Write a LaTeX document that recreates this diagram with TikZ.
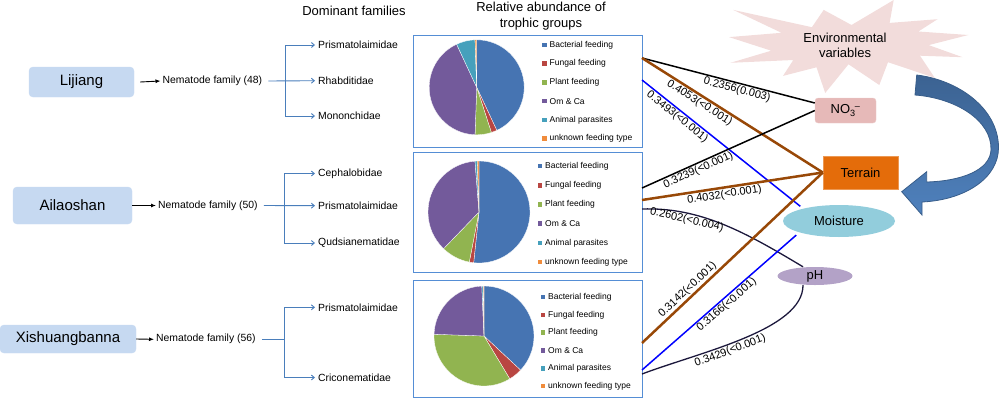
\documentclass[tikz,border=0pt]{standalone}
\usepackage{fontspec}
\setmainfont{Liberation Sans}
\usetikzlibrary{arrows.meta,shapes.geometric}

\definecolor{bact}{RGB}{70,116,178}
\definecolor{fung}{RGB}{185,70,66}
\definecolor{plant}{RGB}{145,180,80}
\definecolor{omca}{RGB}{115,90,155}
\definecolor{anim}{RGB}{70,160,188}
\definecolor{unk}{RGB}{240,140,60}
\definecolor{sitefill}{RGB}{198,217,241}
\definecolor{branchblue}{RGB}{74,126,187}
\definecolor{boxblue}{RGB}{85,142,213}
\definecolor{brownln}{RGB}{152,72,7}
\definecolor{darkln}{RGB}{28,24,60}
\definecolor{starpink}{RGB}{242,220,219}
\definecolor{nofill}{RGB}{230,185,184}
\definecolor{terrfill}{RGB}{228,108,10}
\definecolor{moistfill}{RGB}{146,205,220}
\definecolor{phfill}{RGB}{179,162,199}
\definecolor{arrowblue}{RGB}{79,129,189}
\definecolor{arrowdark}{RGB}{56,93,138}

% pie: centre, radius, list of start/end/colour
\newcommand{\trophicpie}[3]{%
  \foreach \a/\b/\c in {#3}
    \fill[\c,draw=white,line width=0.3pt] (#1) -- ++(\a:#2) arc[start angle=\a,end angle=\b,radius=#2] -- cycle;}
% legend: prefix, square x, first row y, row step
\newcommand{\feedkey}[4]{%
  \foreach \lab/\c [count=\i from 0] in {Bacterial feeding/bact,Fungal feeding/fung,Plant feeding/plant,Om \& Ca/omca,Animal parasites/anim,unknown feeding type/unk}{
    \fill[\c] ({#2-2.3},{#3+\i*#4-2.3}) rectangle ++(4.6,4.6);
    \node[keytext] (#1\i) at ({#2+5},{#3+\i*#4}) {\lab};}}

\begin{document}
\begin{tikzpicture}[x=1pt,y=-1pt,
    title/.style={font=\fontsize{13}{16}\selectfont,align=center,inner sep=0},
    site/.style={fill=sitefill,draw=sitefill,rounded corners=4pt,font=\fontsize{15}{17}\selectfont,inner sep=0},
    famtext/.style={font=\fontsize{10.4}{12}\selectfont,inner sep=3pt,anchor=west},
    keytext/.style={font=\fontsize{8.5}{10}\selectfont,inner sep=0,anchor=west},
    piebox/.style={draw=boxblue,line width=0.9pt,fill=white,inner sep=0,outer sep=0},
    cityarrow/.style={-{Latex[length=5pt,width=4pt]},line width=0.9pt},
    branch/.style={draw=branchblue,line width=0.9pt},
    branchto/.style={branch,-{Straight Barb[length=3pt,width=5pt]}},
    lbl/.style={font=\fontsize{11}{13}\selectfont,inner sep=1pt},
    blackline/.style={line width=1.5pt},
    brownline/.style={draw=brownln,line width=2.5pt},
    blueline/.style={draw=blue,line width=1.5pt},
    darkline/.style={draw=darkln,line width=1.3pt},
    envbox/.style={font=\fontsize{13}{15}\selectfont,inner sep=0}]
\useasboundingbox (0,0) rectangle (1000,402);

% environmental variables
\fill[starpink] (851.5,25) -- (893.7,0) -- (889.6,22.9) -- (937.5,19.2) -- (918.4,31.5)
  -- (968.3,35) -- (928.7,45.1) -- (962.5,57.2) -- (920,55.7) -- (934.8,77.9)
  -- (888,62.2) -- (879.3,85) -- (848.5,64.3) -- (825.2,93) -- (816.5,67.3)
  -- (783,75.9) -- (793.3,60) -- (730.5,62.8) -- (771.2,50.7) -- (729,37.1)
  -- (781.5,32.8) -- (733.2,9.9) -- (811.9,27.2) -- (823.7,9.9) -- cycle;
\node[envbox,align=center] (env) at (845,45) {Environmental\\variables};
\draw[arrowdark,line width=0.8pt,top color=arrowdark!85!arrowblue,bottom color=arrowblue]
  (916.7,75) .. controls (958,80) and (998,108) .. (998.5,147)
  .. controls (999,178) and (965,200) .. (922,202)
  -- (922,215) -- (901.7,191.7) -- (926.7,171.7) -- (926.7,182)
  .. controls (962,181) and (990,170) .. (991,150)
  .. controls (992,120) and (955,98) .. (915,95) -- cycle;

\node[envbox,fill=nofill,draw=nofill!70!white,rounded corners=3pt,minimum width=61,minimum height=25] (no3) at (845.5,110.5) {NO\textsubscript{3}\kern-1pt\textsuperscript{--}};
\node[envbox,fill=terrfill,draw=terrfill!70!white,minimum width=75,minimum height=33] (terr) at (860.5,172.5) {Terrain};
\node[envbox,ellipse,fill=moistfill,minimum width=112,minimum height=32] (moist) at (839,221) {Moisture};
\node[envbox,ellipse,fill=phfill,minimum width=75,minimum height=18] (ph) at (815,276) {pH};

% titles
\node[title] (domtitle) at (354,11) {Dominant families};
\node[title] (reltitle) at (541,16) {Relative abundance of\\trophic groups};

% sites
\node[site,minimum width=105,minimum height=30] (lij) at (81.5,82) {Lijiang};
\node[site,minimum width=119,minimum height=37] (ail) at (72.5,205.5) {Ailaoshan};
\node[site,minimum width=136,minimum height=28] (xis) at (68,339) {Xishuangbanna};

\node[famtext,inner sep=2pt] (nf1) at (160.5,81) {Nematode family (48)};
\node[famtext,inner sep=2pt] (nf2) at (156,205.5) {Nematode family (50)};
\node[famtext,inner sep=2pt] (nf3) at (154,339.3) {Nematode family (56)};
\draw[cityarrow] ([xshift=6pt]lij.east) -- (nf1.west);
\draw[cityarrow] (ail.east) -- (nf2.west);
\draw[cityarrow] (xis.east) -- (nf3.west);

% dominant families
\node[famtext] (l1) at (315,45) {Prismatolaimidae};
\node[famtext] (l2) at (315,80.7) {Rhabditidae};
\node[famtext] (l3) at (315,116) {Mononchidae};
\node[famtext] (a1) at (315,173.5) {Cephalobidae};
\node[famtext] (a2) at (315,205.7) {Prismatolaimidae};
\node[famtext] (a3) at (315,243) {Qudsianematidae};
\node[famtext] (x1) at (315,307.3) {Prismatolaimidae};
\node[famtext] (x2) at (315,377.5) {Criconematidae};

\coordinate (j1) at (285.7,80.7);
\coordinate (j2) at (284.3,205.7);
\coordinate (j3) at (284.3,339.3);
\draw[branchto] ([xshift=4pt]nf1.east) -- (l2.west);
\draw[branchto] (j1) |- (l1.west);
\draw[branchto] (j1) |- (l3.west);
\draw[branchto] ([xshift=4pt]nf2.east) -- (a2.west);
\draw[branchto] (j2) |- (a1.west);
\draw[branchto] (j2) |- (a3.west);
\draw[branch] ([xshift=4pt]nf3.east) -- (j3);
\draw[branchto] (j3) |- (x1.west);
\draw[branchto] (j3) |- (x2.west);

% trophic groups
\node[piebox,minimum width=229,minimum height=112] (box1) at (527.5,91) {};
\node[piebox,minimum width=229,minimum height=120] (box2) at (527.5,212) {};
\node[piebox,minimum width=229,minimum height=117] (box3) at (527.5,338.5) {};
\trophicpie{476.7,87.3}{47.5}{-90/65/bact,65/72/fung,72/92/plant,92/245/omca,245/268/anim,268/270/unk}
\trophicpie{479,212}{51}{-90/96/bact,96/101/fung,101/134/plant,134/265.5/omca,265.5/268/anim,268/270/unk}
\trophicpie{484,336}{50}{-90/43/bact,43/59/fung,59/182/plant,182/267.5/omca,267.5/269/anim,269/270/unk}
\feedkey{ka}{544.5}{45}{18.7}
\feedkey{kb}{540}{166}{19.2}
\feedkey{kc}{543}{297}{17.8}

% correlations
\coordinate (b1a) at (642,58);
\coordinate (b1b) at (642,80);
\coordinate (b2a) at (642,188);
\coordinate (b2b) at (642,200);
\coordinate (b2c) at (642,209);
\coordinate (b3a) at (642,343);
\coordinate (b3b) at (642,370);
\coordinate (b3c) at (642,374);
\draw[blackline] (b1a) -- node[lbl,sloped,below,pos=0.56]{0.2356(0.003)} ([yshift=7.5pt]no3.west);
\draw[brownline] (b1a) -- node[lbl,sloped,below,pos=0.34]{0.4053(<0.001)} (terr.west);
\draw[blueline,shorten >=49.5pt] (b1b) -- node[lbl,sloped,below,pos=0.2]{0.3493(<0.001)} (moist.south);
\draw[blackline] (b2a) -- node[lbl,sloped,below,pos=0.31]{0.3239(<0.001)} (no3.west);
\draw[brownline] (b2b) -- node[lbl,sloped,below,pos=0.45]{0.4032(<0.001)} (terr.west);
\draw[darkline] (b2c) .. controls (700,207) and (745,232) .. node[lbl,sloped,below,pos=0.28]{0.2602(<0.004)} ([xshift=-12pt]ph.north);
\draw[brownline] (b3a) -- node[lbl,sloped,above,pos=0.28]{0.3142(<0.001)} (terr.west);
\draw[blueline,shorten >=4pt] (b3b) -- node[lbl,sloped,below,pos=0.51]{0.3166(<0.001)} (moist.south west);
\draw[darkline] (b3c) .. controls (700,352) and (803,330) .. node[lbl,sloped,below,pos=0.42]{0.3429(<0.001)} ([xshift=-12pt]ph.south);
\end{tikzpicture}
\end{document}
